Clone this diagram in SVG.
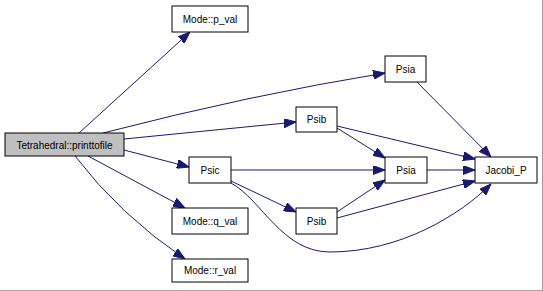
<svg xmlns="http://www.w3.org/2000/svg" width="543" height="291" viewBox="0 0 543 291">
  <style>
    .node rect { fill: #ffffff; stroke: #000000; stroke-width: 1; }
    .node.root rect { fill: #bfbfbf; }
    .node text { font-family: "Liberation Sans", Arial, sans-serif; font-size: 10px; fill: #000000; text-anchor: middle; }
    .edge { fill: none; stroke: #191970; stroke-width: 1; marker-end: url(#arrow); }
  </style>
  <defs>
    <marker id="arrow" markerUnits="userSpaceOnUse" markerWidth="12" markerHeight="9" viewBox="0 0 12 9" refX="12" refY="4.5" orient="auto">
      <path d="M0,0 L12,4.5 L0,9 z" fill="#191970" stroke="#191970"/>
    </marker>
  </defs>
  <rect x="0" y="0" width="543" height="291" fill="#ffffff"/>
  <line x1="542.5" y1="0" x2="542.5" y2="291" stroke="#a0a0a0"/>
  <line x1="0" y1="290.5" x2="543" y2="290.5" stroke="#a0a0a0"/>

  <g id="connectors">
    <path class="edge" d="M79,133 L190,32"/>
    <path class="edge" d="M103,133 Q250,95 385,73"/>
    <path class="edge" d="M124,139 L296,122"/>
    <path class="edge" d="M124,150 L189,167"/>
    <path class="edge" d="M88,156 L185,208"/>
    <path class="edge" d="M75,156 Q120,215 185,259"/>
    <path class="edge" d="M231,170 L385,170"/>
    <path class="edge" d="M231,181 L296,212"/>
    <path class="edge" d="M231,183 C262,200 282,252 330,252 C400,252 460,215 491,184"/>
    <path class="edge" d="M337,128 L385,158"/>
    <path class="edge" d="M337,126 L475,159"/>
    <path class="edge" d="M417,82 L491,157"/>
    <path class="edge" d="M427,170 L475,170"/>
    <path class="edge" d="M337,212 L385,180"/>
    <path class="edge" d="M337,218 L475,181"/>
  </g>

  <g id="node-printtofile" class="node root">
    <rect x="5" y="133" width="119" height="23"/>
    <text x="64.5" y="148.5">Tetrahedral::printtofile</text>
  </g>
  <g id="node-p_val" class="node">
    <rect x="172" y="6" width="76" height="26"/>
    <text x="210" y="22.5">Mode::p_val</text>
  </g>
  <g id="node-psia-top" class="node">
    <rect x="385" y="56" width="41" height="26"/>
    <text x="405.5" y="72.5">Psia</text>
  </g>
  <g id="node-psib-top" class="node">
    <rect x="296" y="107" width="41" height="25"/>
    <text x="316.5" y="123">Psib</text>
  </g>
  <g id="node-psic" class="node">
    <rect x="189" y="157" width="42" height="26"/>
    <text x="210" y="173.5">Psic</text>
  </g>
  <g id="node-psia-mid" class="node">
    <rect x="385" y="157" width="42" height="26"/>
    <text x="406" y="173.5">Psia</text>
  </g>
  <g id="node-jacobi" class="node">
    <rect x="475" y="157" width="62" height="26"/>
    <text x="506" y="173.5">Jacobi_P</text>
  </g>
  <g id="node-psib-bottom" class="node">
    <rect x="296" y="208" width="41" height="26"/>
    <text x="316.5" y="224.5">Psib</text>
  </g>
  <g id="node-q_val" class="node">
    <rect x="172" y="208" width="76" height="26"/>
    <text x="210" y="224.5">Mode::q_val</text>
  </g>
  <g id="node-r_val" class="node">
    <rect x="172" y="259" width="76" height="23"/>
    <text x="210" y="274">Mode::r_val</text>
  </g>
</svg>
